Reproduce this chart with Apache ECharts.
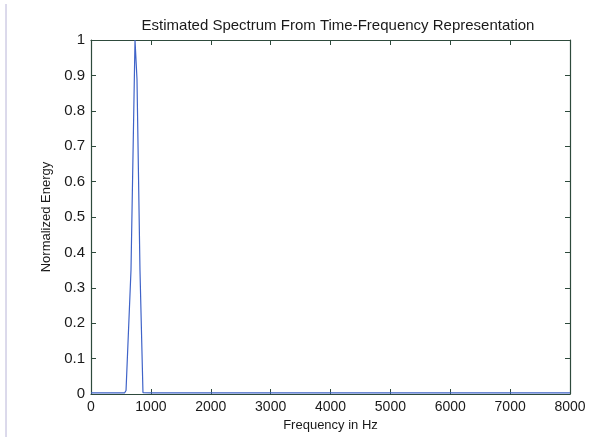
<!DOCTYPE html>
<html><head><meta charset="utf-8">
<script src="https://cdn.jsdelivr.net/npm/echarts@6/dist/echarts.min.js"></script>
<style>html,body{margin:0;padding:0;background:#fff}#c{width:615px;height:437px}</style>
</head><body><div id="c"></div>
<script>
const freqHz = [0, 560, 585, 668, 735, 768, 818, 868, 1000, 2000, 3000, 4000, 5000, 6000, 7000, 8000];
const energy = [0.003, 0.003, 0.01, 0.35, 1.0, 0.89, 0.35, 0.004, 0.003, 0.003, 0.003, 0.003, 0.003, 0.003, 0.003, 0.003];
const xTicks = [0, 1000, 2000, 3000, 4000, 5000, 6000, 7000, 8000];
const yTicks = [0, 0.1, 0.2, 0.3, 0.4, 0.5, 0.6, 0.7, 0.8, 0.9, 1];
const titleText = 'Estimated Spectrum From Time-Frequency Representation';
const xName = 'Frequency in Hz';
const yName = 'Normalized Energy';

const axisColor = '#2e4a3c';
const textColor = '#1a1a1a';
const font = 'Liberation Sans, Arial, sans-serif';
const chart = echarts.init(document.getElementById('c'), null, {renderer: 'canvas'});
const common = () => ({
  axisLine: {show: true, onZero: false, lineStyle: {color: axisColor, width: 1.2}},
  axisTick: {show: true, inside: true, length: 5, lineStyle: {color: axisColor}},
  splitLine: {show: false}
});
chart.setOption({
  animation: false,
  backgroundColor: '#fff',
  title: {text: titleText, left: 333, top: 13, textAlign: 'center',
    textStyle: {fontFamily: font, fontSize: 15, fontWeight: 'normal', color: textColor}},
  grid: {left: 91, right: 45, top: 40, bottom: 43},
  xAxis: [
    Object.assign({type: 'value', position: 'bottom', min: xTicks[0], max: xTicks[xTicks.length-1], interval: 1000,
      name: xName, nameLocation: 'middle', nameGap: 23,
      nameTextStyle: {fontFamily: font, fontSize: 13, color: textColor},
      axisLabel: {fontFamily: font, fontSize: 14, color: textColor, margin: 6,
        formatter: v => String(v)}}, common()),
    Object.assign({type: 'value', position: 'top', min: 0, max: 8000, interval: 1000,
      axisLabel: {show: false}}, common())
  ],
  yAxis: [
    Object.assign({type: 'value', position: 'left', min: 0, max: 1, interval: 0.1,
      name: yName, nameLocation: 'middle', nameGap: 38,
      nameTextStyle: {fontFamily: font, fontSize: 13, color: textColor},
      axisLabel: {fontFamily: font, fontSize: 15, color: textColor, margin: 6,
        formatter: v => { const r = Math.round(v*10)/10; return yTicks.includes(r) ? String(r) : ''; }}}, common()),
    Object.assign({type: 'value', position: 'right', min: 0, max: 1, interval: 0.1,
      axisLabel: {show: false}}, common())
  ],
  series: [{
    type: 'line', xAxisIndex: 0, yAxisIndex: 0,
    data: freqHz.map((f, i) => [f, energy[i]]),
    showSymbol: false, symbol: 'none',
    lineStyle: {color: '#3f63c8', width: 1.2}
  }],
  graphic: [{type: 'line', shape: {x1: 6, y1: 4, x2: 6, y2: 437},
    style: {stroke: '#b8b4d8', lineWidth: 1}}]
});
</script></body></html>
